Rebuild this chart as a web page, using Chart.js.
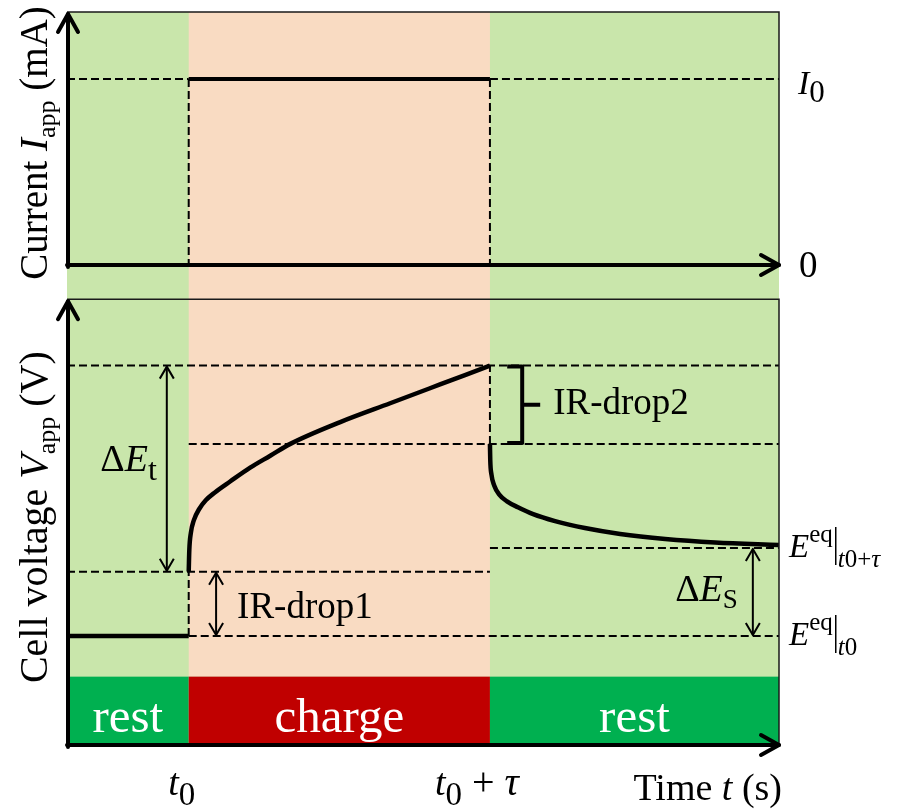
<!DOCTYPE html>
<html>
<head>
<meta charset="utf-8">
<script src="https://cdn.jsdelivr.net/npm/chart.js@4.4.0/dist/chart.umd.min.js"></script>
<style>
  body { margin: 0; background: #fff; }
  #wrap { position: relative; width: 899px; height: 812px; }
</style>
</head>
<body>
<div id="wrap"><canvas id="pulseChart"></canvas></div>
<script>
// Time axis (arbitrary units): rest | charge | rest
const tMax = 11.7;
const t0 = 2.0;
const tEnd = 6.95;   // t0 + tau

// Current panel
const currentI0 = 1;

// Voltage levels (arbitrary units)
const eqStart = 1.1;      // E_eq at t0
const irDrop1Top = 1.75;
const peakV = 3.83;
const irDrop2Low = 3.04;
const eqEnd = 1.99;       // E_eq at t0 + tau
const barTop = 0.69;      // top of the rest/charge strip

// Charge curve
const chargeT = [2.0, 2.01, 2.035, 2.085, 2.17, 2.28, 2.43, 2.68, 3.01, 3.34, 3.67, 4.49, 5.31, 6.13, 6.95];
const chargeV = [1.75, 1.97, 2.14, 2.27, 2.38, 2.47, 2.55, 2.66, 2.8, 2.92, 3.04, 3.26, 3.45, 3.64, 3.83];

// Relaxation curve after the pulse
const relaxT = [6.95, 6.955, 6.975, 7.02, 7.1, 7.23, 7.41, 7.66, 8.02, 8.51, 9.09, 9.83, 10.65, 11.7];
const relaxV = [3.04, 2.88, 2.73, 2.62, 2.53, 2.46, 2.4, 2.33, 2.26, 2.19, 2.13, 2.08, 2.045, 2.02];

// Phase strip
const phaseNames = ['rest', 'charge', 'rest'];
const phaseFrom = [0, t0, tEnd];
const phaseTo = [t0, tEnd, tMax];
const phaseColors = ['#00b050', '#c00000', '#00b050'];

// where the dimension arrows sit on the time axis
const arrowDEt = 1.64;
const arrowIR1 = 2.45;
const arrowDEs = 11.27;
const bracketIR2 = 7.48;

const serif = '"Liberation Serif", "Times New Roman", serif';
const fnt = (size, style) => (style ? style + ' ' : '') + size + 'px ' + serif;

function pts(xs, ys) {
    return xs.map((x, i) => ({ x: x, y: ys[i] }));
}

// dashed guide segments, separated by null gaps
function segs(list) {
    let out = [];
    list.forEach(s => {
        out.push({ x: s[0], y: s[1] }, { x: s[2], y: s[3] }, { x: s[2], y: null });
    });
    return out;
}

const guidesI = segs([
    [0, currentI0, t0, currentI0],
    [tEnd, currentI0, tMax, currentI0],
    [t0, currentI0, t0, 0],
    [tEnd, currentI0, tEnd, 0]
]);
const guidesV = segs([
    [0, peakV, tMax, peakV],
    [t0, irDrop2Low, tMax, irDrop2Low],
    [0, irDrop1Top, tEnd, irDrop1Top],
    [tEnd, eqEnd, tMax, eqEnd],
    [t0, eqStart, tMax, eqStart],
    [t0, eqStart, t0, irDrop1Top],
    [tEnd, irDrop2Low, tEnd, peakV]
]);

function textRuns(ctx, parts, x, y, align) {
    let w = 0;
    parts.forEach(p => { ctx.font = p[1]; w += ctx.measureText(p[0]).width; });
    let cx = align === 'center' ? x - w / 2 : (align === 'right' ? x - w : x);
    ctx.textAlign = 'left';
    parts.forEach(p => {
        ctx.font = p[1];
        ctx.fillText(p[0], cx, y + (p[2] || 0));
        cx += ctx.measureText(p[0]).width;
    });
    return w;
}

function chevron(ctx, x, y, dir, len, half) {
    // dir: 'up', 'down', 'right'
    ctx.beginPath();
    if (dir === 'up') { ctx.moveTo(x - half, y + len); ctx.lineTo(x, y); ctx.lineTo(x + half, y + len); }
    if (dir === 'down') { ctx.moveTo(x - half, y - len); ctx.lineTo(x, y); ctx.lineTo(x + half, y - len); }
    if (dir === 'right') { ctx.moveTo(x - len, y - half); ctx.lineTo(x, y); ctx.lineTo(x - len, y + half); }
    ctx.stroke();
}

function doubleArrow(ctx, x, yTop, yBot) {
    ctx.lineWidth = 2;
    ctx.beginPath();
    ctx.moveTo(x, yTop + 1);
    ctx.lineTo(x, yBot - 1);
    ctx.stroke();
    chevron(ctx, x, yTop + 1, 'up', 12, 7);
    chevron(ctx, x, yBot - 1, 'down', 12, 7);
}

const backdrop = {
    id: 'backdrop',
    beforeDatasetsDraw(chart) {
        const ctx = chart.ctx;
        const x = chart.scales.x, yV = chart.scales.yV;
        const left = x.getPixelForValue(0), right = x.getPixelForValue(tMax);
        const top = chart.chartArea.top, bottom = yV.getPixelForValue(0);
        ctx.save();
        ctx.fillStyle = '#c9e6ab';
        ctx.fillRect(left, top, right - left, bottom - top);
        ctx.fillStyle = '#f9dbc2';
        ctx.fillRect(x.getPixelForValue(t0), top, x.getPixelForValue(tEnd) - x.getPixelForValue(t0), yV.getPixelForValue(barTop) - top);
        // phase strip
        phaseNames.forEach((name, i) => {
            const a = x.getPixelForValue(phaseFrom[i]), b = x.getPixelForValue(phaseTo[i]);
            const yt = yV.getPixelForValue(barTop);
            ctx.fillStyle = phaseColors[i];
            ctx.fillRect(a, yt, b - a, bottom - yt);
            ctx.fillStyle = '#ffffff';
            ctx.font = fnt(49);
            ctx.textAlign = 'center';
            ctx.fillText(name, (a + b) / 2, bottom - 13);
        });
        ctx.restore();
    },
    afterDatasetsDraw(chart) {
        const ctx = chart.ctx;
        const x = chart.scales.x, yI = chart.scales.yI, yV = chart.scales.yV;
        const left = x.getPixelForValue(0), right = x.getPixelForValue(tMax);
        const top = chart.chartArea.top;
        const zeroI = yI.getPixelForValue(0), zeroV = yV.getPixelForValue(0);
        const panelTop = yV.getPixelForValue(4.5);
        ctx.save();
        ctx.strokeStyle = '#1a1a1a';
        ctx.lineWidth = 1.5;
        ctx.beginPath();
        ctx.moveTo(left, top); ctx.lineTo(right, top); ctx.lineTo(right, zeroI);
        ctx.moveTo(left, panelTop); ctx.lineTo(right, panelTop); ctx.lineTo(right, zeroV);
        ctx.stroke();

        // axes
        ctx.strokeStyle = '#000';
        ctx.lineWidth = 4;
        ctx.lineCap = 'round';
        ctx.lineJoin = 'round';
        ctx.beginPath();
        ctx.moveTo(left + 1, zeroI + 2); ctx.lineTo(left + 1, top + 2);
        ctx.moveTo(left, zeroI); ctx.lineTo(right, zeroI);
        ctx.moveTo(left + 1, zeroV + 2); ctx.lineTo(left + 1, panelTop + 2);
        ctx.moveTo(left, zeroV); ctx.lineTo(right, zeroV);
        ctx.stroke();
        chevron(ctx, left + 1, top + 2, 'up', 18, 10);
        chevron(ctx, left + 1, panelTop + 2, 'up', 18, 10);
        chevron(ctx, right, zeroI, 'right', 18, 10);
        chevron(ctx, right, zeroV, 'right', 18, 10);

        // dimension arrows
        ctx.lineCap = 'butt';
        const pIR1 = yV.getPixelForValue(irDrop1Top), pPeak = yV.getPixelForValue(peakV);
        const pEq0 = yV.getPixelForValue(eqStart), pEq1 = yV.getPixelForValue(eqEnd);
        const pIR2 = yV.getPixelForValue(irDrop2Low);
        const xDEt = x.getPixelForValue(arrowDEt), xIR1 = x.getPixelForValue(arrowIR1), xDEs = x.getPixelForValue(arrowDEs);
        doubleArrow(ctx, xDEt, pPeak, pIR1);
        doubleArrow(ctx, xIR1, pIR1, pEq0);
        doubleArrow(ctx, xDEs, pEq1, pEq0);

        // IR-drop2 bracket
        const xb = x.getPixelForValue(bracketIR2);
        ctx.lineWidth = 4;
        ctx.lineJoin = 'round';
        ctx.beginPath();
        ctx.moveTo(xb - 15, pPeak + 1); ctx.lineTo(xb, pPeak + 1); ctx.lineTo(xb, pIR2 - 1); ctx.lineTo(xb - 15, pIR2 - 1);
        ctx.moveTo(xb, (pPeak + pIR2) / 2); ctx.lineTo(xb + 18, (pPeak + pIR2) / 2);
        ctx.stroke();

        // labels
        ctx.fillStyle = '#000';
        ctx.textBaseline = 'alphabetic';
        textRuns(ctx, [['\u0394', fnt(38)], ['E', fnt(38, 'italic')], ['t', fnt(32), 9]], xDEt - 10, (pPeak + pIR1) / 2 + 2, 'right');
        textRuns(ctx, [['IR-drop1', fnt(37)]], xIR1 + 21, (pIR1 + pEq0) / 2 + 14, 'left');
        textRuns(ctx, [['IR-drop2', fnt(37)]], xb + 31, (pPeak + pIR2) / 2 + 9, 'left');
        textRuns(ctx, [['\u0394', fnt(38)], ['E', fnt(38, 'italic')], ['S', fnt(27), 7]], xDEs - 15, (pEq1 + pEq0) / 2 + 9, 'right');

        // right-side level labels
        const lx = right + 19;
        textRuns(ctx, [['I', fnt(34, 'italic')], ['0', fnt(31), 8]], lx, yI.getPixelForValue(currentI0) + 15, 'left');
        textRuns(ctx, [['0', fnt(37)]], lx + 1, zeroI + 12, 'left');
        [[pEq1, [['t', fnt(25, 'italic')], ['0+', fnt(25)], ['\u03c4', fnt(25, 'italic')]]],
         [pEq0, [['t', fnt(25, 'italic')], ['0', fnt(25)]]]].forEach(item => {
            const yy = item[0] + 9;
            const w = textRuns(ctx, [['E', fnt(33, 'italic')], ['eq', fnt(25), -15]], right + 10, yy, 'left');
            const bx = right + 10 + w + 3;
            ctx.lineWidth = 1.5;
            ctx.beginPath();
            ctx.moveTo(bx, yy - 30); ctx.lineTo(bx, yy + 8);
            ctx.stroke();
            textRuns(ctx, item[1], bx + 2, yy + 10, 'left');
        });

        // time labels
        const tBase = zeroV + 50;
        textRuns(ctx, [['t', fnt(38, 'italic')], ['0', fnt(33), 10]], x.getPixelForValue(t0) - 7, tBase, 'center');
        textRuns(ctx, [['t', fnt(38, 'italic')], ['0', fnt(33), 10], [' + ', fnt(40)], ['\u03c4', fnt(40, 'italic')]], x.getPixelForValue(tEnd) - 13, tBase, 'center');
        textRuns(ctx, [['Time ', fnt(38)], ['t', fnt(38, 'italic')], [' (s)', fnt(38)]], right + 3, zeroV + 55, 'right');

        // axis titles
        const titles = [
            [yI.getPixelForValue(0.656), [['Current ', fnt(39)], ['I', fnt(39, 'italic')], ['app', fnt(26), 8], [' (mA)', fnt(39)]]],
            [yV.getPixelForValue(2.3), [['Cell voltage ', fnt(40)], ['V', fnt(40, 'italic')], ['app', fnt(26), 8], [' (V)', fnt(40)]]]
        ];
        titles.forEach(tt => {
            ctx.save();
            ctx.translate(47, tt[0]);
            ctx.rotate(-Math.PI / 2);
            textRuns(ctx, tt[1], 0, 0, 'center');
            ctx.restore();
        });
        ctx.restore();
    }
};

const lineStyle = { borderColor: '#000', pointRadius: 0, fill: false };

new Chart(document.getElementById('pulseChart').getContext('2d'), {
    type: 'line',
    data: {
        datasets: [
            Object.assign({ data: guidesI, yAxisID: 'yI', borderWidth: 2, borderDash: [8, 4], spanGaps: false }, lineStyle),
            Object.assign({ data: guidesV, yAxisID: 'yV', borderWidth: 2, borderDash: [8, 4], spanGaps: false }, lineStyle),
            Object.assign({ data: pts([t0, tEnd], [currentI0, currentI0]), yAxisID: 'yI', borderWidth: 4 }, lineStyle),
            Object.assign({ data: pts([0, t0], [eqStart, eqStart]), yAxisID: 'yV', borderWidth: 4.5 }, lineStyle),
            Object.assign({ data: pts(chargeT, chargeV), yAxisID: 'yV', borderWidth: 4.5, cubicInterpolationMode: 'monotone' }, lineStyle),
            Object.assign({ data: pts(relaxT, relaxV), yAxisID: 'yV', borderWidth: 4.5, cubicInterpolationMode: 'monotone' }, lineStyle)
        ]
    },
    options: {
        responsive: true,
        maintainAspectRatio: false,
        animation: false,
        events: [],
        layout: {
            padding: { left: 67, top: 12, right: 120, bottom: 67 }
        },
        plugins: {
            legend: { display: false },
            tooltip: { enabled: false }
        },
        scales: {
            x: { type: 'linear', min: 0, max: tMax, display: false },
            yI: { type: 'linear', min: -2.58, max: 1.36, display: false },
            yV: { type: 'linear', min: 0, max: 7.4, display: false }
        }
    },
    plugins: [backdrop]
});
</script>
</body>
</html>
